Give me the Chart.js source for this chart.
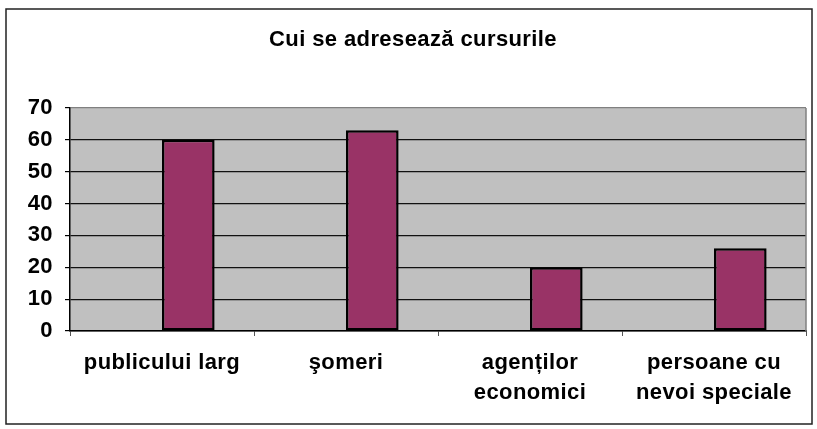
<!DOCTYPE html>
<html>
<head>
<meta charset="utf-8">
<script src="https://cdn.jsdelivr.net/npm/chart.js@4.4.0/dist/chart.umd.min.js"></script>
<style>
  html, body { margin: 0; padding: 0; background: #fff; }
  #wrap { width: 817px; height: 429px; }
</style>
</head>
<body>
<div id="wrap"><canvas id="courseChart" width="817" height="429"></canvas></div>
<script>
// chart data
const categories = ["publicului larg", "şomeri", ["agenților", "economici"], ["persoane cu", "nevoi speciale"]];
const emptySeries = [null, null, null, null]; // Excel had an empty first series
const values = [60, 63, 20, 26];
const yTicks = [0, 10, 20, 30, 40, 50, 60, 70];
const titleText = "Cui se adresează cursurile";

Chart.defaults.font.family = "'Liberation Sans', Arial, sans-serif";
Chart.defaults.font.weight = "bold";
Chart.defaults.font.size = 22;
Chart.defaults.color = "#000";

// slightly wider letters like the excel export
const spacing = {
  id: "spacing",
  beforeUpdate(c) { c.ctx.letterSpacing = "0.4px"; },
  beforeDraw(c) { c.ctx.letterSpacing = "0.4px"; }
};

const frame = {
  id: "frame",
  beforeDraw(c) {
    const ctx = c.ctx, a = c.chartArea;
    ctx.save();
    ctx.fillStyle = "#C0C0C0";
    ctx.fillRect(a.left, a.top, a.right - a.left, a.bottom - a.top);
    ctx.restore();
  },
  afterDraw(c) {
    const ctx = c.ctx, a = c.chartArea;
    ctx.save();
    // right edge of plot area
    ctx.strokeStyle = "#808080";
    ctx.lineWidth = 1.5;
    ctx.beginPath();
    ctx.moveTo(a.right, a.top);
    ctx.lineTo(a.right, a.bottom);
    ctx.stroke();
    // outer border
    ctx.strokeStyle = "#222";
    ctx.lineWidth = 1.5;
    ctx.strokeRect(6, 9, 806, 415);
    ctx.restore();
  }
};

new Chart(document.getElementById("courseChart"), {
  type: "bar",
  data: {
    labels: categories,
    datasets: [
      { label: "Series 1", data: emptySeries, backgroundColor: "#993366" },
      {
        label: "Series 2",
        data: values,
        backgroundColor: "#993366",
        borderColor: "#000",
        borderWidth: 2.5,
        borderSkipped: false
      }
    ]
  },
  options: {
    responsive: false,
    animation: false,
    categoryPercentage: 0.572,
    barPercentage: 1,
    layout: { padding: { left: 20, right: 11, top: 0, bottom: 0 } },
    plugins: {
      legend: { display: false },
      tooltip: { enabled: false },
      title: {
        display: true,
        text: titleText,
        font: { size: 22, weight: "bold", lineHeight: 1.2 },
        padding: { top: 26.8, bottom: 54.8 }
      }
    },
    scales: {
      x: {
        grid: { offset: true, drawOnChartArea: false, tickLength: 5, color: "#555" },
        border: { color: "#000", width: 1.5 },
        ticks: { padding: 12, maxRotation: 0, autoSkip: false, font: { lineHeight: 1.36 } },
        afterFit(s) { s.height = 98; }
      },
      y: {
        min: 0,
        max: 70,
        afterBuildTicks(s) { s.ticks = yTicks.map(v => ({ value: v })); },
        grid: {
          tickLength: 5,
          lineWidth: 1.2,
          color: ctx => ctx.tick && ctx.tick.value === 70 ? "#808080" : "#111",
          tickColor: "#000"
        },
        border: { color: "#000", width: 1.5 },
        ticks: { padding: 12 },
        afterFit(s) { s.width = 50; }
      }
    }
  },
  plugins: [spacing, frame]
});
</script>
</body>
</html>
